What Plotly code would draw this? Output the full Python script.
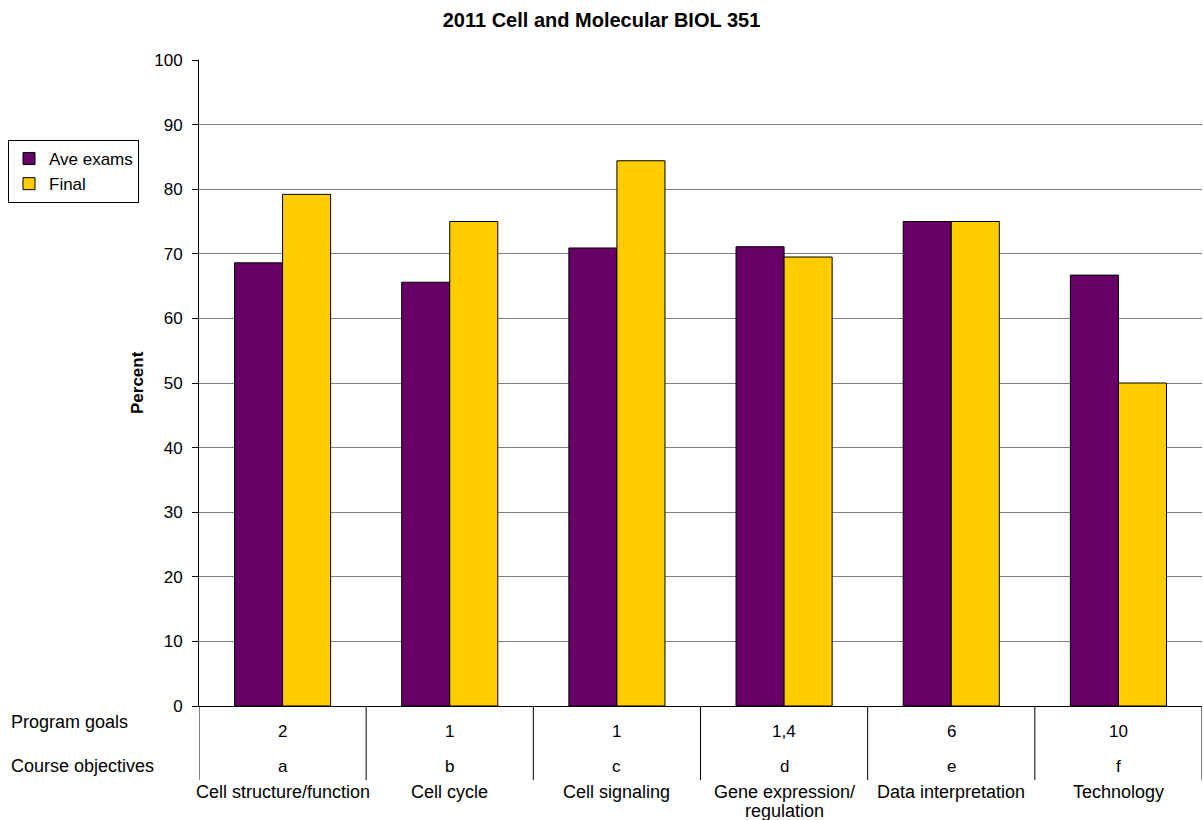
import plotly.graph_objects as go

categories = ["Cell structure/function", "Cell cycle", "Cell signaling",
              "Gene expression/<br>regulation", "Data interpretation", "Technology"]
program_goals = ["2", "1", "1", "1,4", "6", "10"]
course_objectives = ["a", "b", "c", "d", "e", "f"]
ave_exams = [68.6, 65.6, 70.9, 71.1, 75.0, 66.7]
final = [79.2, 75.0, 84.4, 69.5, 75.0, 50.0]

W, H = 1203, 820
L, R, T, B = 199, 1, 60, 114
pw, ph = W - L - R, H - T - B
FS = 17
FL = 18

def px_y(ypx):
    return (H - B - ypx) / ph

def px_x(xpx):
    return (xpx - L) / pw

idx = list(range(len(categories)))
font = "Liberation Sans, Arial, sans-serif"

fig = go.Figure()
fig.add_trace(go.Bar(x=idx, y=ave_exams, name="Ave exams",
                     marker=dict(color="#660066", line=dict(color="black", width=1))))
fig.add_trace(go.Bar(x=idx, y=final, name="Final",
                     marker=dict(color="#FFCC00", line=dict(color="black", width=1))))

ann = []
for i in idx:
    ann.append(dict(x=i, y=px_y(731), xref="x", yref="paper", text=program_goals[i],
                    showarrow=False, font=dict(size=FS, color="black"), yanchor="middle"))
    ann.append(dict(x=i, y=px_y(766), xref="x", yref="paper", text=course_objectives[i],
                    showarrow=False, font=dict(size=FS, color="black"), yanchor="middle"))
    for k, line in enumerate(categories[i].split("<br>")):
        ann.append(dict(x=i, y=px_y(792 + 19 * k), xref="x", yref="paper", text=line,
                        showarrow=False, font=dict(size=FL, color="black"), yanchor="middle"))

ann.append(dict(x=px_x(9), y=px_y(722), xref="paper", yref="paper", text="Program goals",
                showarrow=False, xanchor="left", yanchor="middle", font=dict(size=FL, color="black")))
ann.append(dict(x=px_x(9), y=px_y(766), xref="paper", yref="paper", text="Course objectives",
                showarrow=False, xanchor="left", yanchor="middle", font=dict(size=FL, color="black")))
ann.append(dict(x=px_x(137), y=0.5, xref="paper", yref="paper", text="<b>Percent</b>",
                showarrow=False, textangle=-90, xanchor="center", yanchor="middle",
                font=dict(size=FS, color="black")))

shapes = []
for b in range(len(categories) + 1):
    shapes.append(dict(type="line", xref="x", yref="paper", x0=b - 0.5, x1=b - 0.5,
                       y0=0, y1=px_y(780), line=dict(color="black", width=1)))

fig.update_layout(
    width=W, height=H,
    margin=dict(l=L, r=R, t=T, b=B, pad=0),
    paper_bgcolor="white", plot_bgcolor="white",
    font=dict(family=font, size=FS, color="black"),
    title=dict(text="<b>2011 Cell and Molecular BIOL 351</b>", x=0.5, xanchor="center",
               y=1 - 20 / H, yanchor="middle", font=dict(size=20, color="black")),
    barmode="group", bargap=0.425, bargroupgap=0,
    showlegend=True,
    legend=dict(x=px_x(8), y=px_y(140), xanchor="left", yanchor="top",
                bordercolor="black", borderwidth=1, bgcolor="white",
                font=dict(size=FS, color="black"), tracegroupgap=0,
                itemwidth=30),
    annotations=ann, shapes=shapes,
)
fig.update_xaxes(range=[-0.5, 5.5], showticklabels=False, showgrid=False, zeroline=False,
                 showline=True, linecolor="black", linewidth=1, ticks="")
fig.update_yaxes(range=[0, 100], dtick=10, tick0=0, showgrid=True, gridcolor="#808080",
                 gridwidth=1, zeroline=False, showline=True, linecolor="black", linewidth=1,
                 ticks="outside", ticklen=6, tickcolor="black", ticklabelstandoff=6,
                 tickfont=dict(size=FS, color="black"))

fig.write_html("out.html")
